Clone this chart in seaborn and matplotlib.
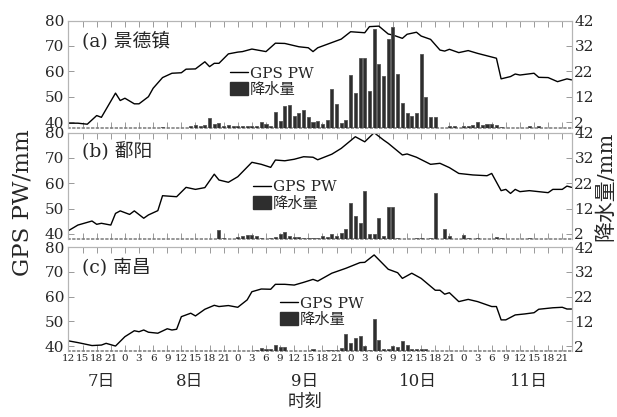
import numpy as np
import matplotlib
matplotlib.use("Agg")
import matplotlib.pyplot as plt
import matplotlib.transforms as mtransforms
from matplotlib.lines import Line2D
from matplotlib.patches import Patch
import seaborn as sns

sns.set_style("white")
plt.rcParams["font.family"] = ["DejaVu Serif", "Noto Sans CJK SC"]
plt.rcParams["axes.unicode_minus"] = False
plt.rcParams["lines.scale_dashes"] = False

# Time axis: hours counted from 7th 00:00, hourly samples 7th 12:00 .. 11th 23:00
hours = np.arange(12, 120)

# ---- (a) 景德镇 ----
pw_hours_a = [12, 14, 16, 18, 19, 22, 23, 24, 26, 27, 29, 30, 32, 34, 36, 37, 39, 41, 42, 43,
              44, 46, 48, 49, 51, 54, 56, 58, 61, 63, 64, 65, 70, 72, 75, 76, 78, 80, 81, 83,
              84, 86, 87, 89, 91, 92, 93, 95, 97, 99, 103, 104, 106, 107, 108, 111, 112, 114,
              116, 118, 119]
pw_a = [39.7, 39.7, 39.3, 42.7, 42.0, 51.5, 48.6, 49.5, 47.3, 47.3, 50.1, 53.4, 57.6, 59.3,
        59.5, 60.9, 61.0, 63.8, 61.9, 63.2, 63.2, 66.9, 67.6, 67.8, 68.8, 67.8, 71.1, 71.0,
        69.7, 69.3, 67.8, 69.3, 72.7, 75.6, 75.2, 77.6, 77.8, 74.7, 74.3, 73.0, 74.6, 75.4,
        73.9, 72.6, 68.4, 68.0, 68.7, 67.4, 68.2, 67.1, 65.2, 57.1, 58.0, 59.0, 58.6, 59.3,
        57.7, 57.6, 56.0, 57.1, 56.7]
rain_hours_a = [32, 38, 39, 40, 41, 42, 43, 44, 45, 46, 47, 48, 49, 50, 51, 52, 53, 54, 55,
                56, 57, 58, 59, 60, 61, 62, 63, 64, 65, 66, 67, 68, 69, 70, 71, 72, 73, 74, 75,
                76, 77, 78, 79, 80, 81, 82, 83, 84, 85, 86, 87, 88, 89, 90, 93, 94, 96, 97, 98,
                99, 100, 101, 102, 103, 104, 110, 112]
rain_a = [0.3, 0.6, 1.0, 0.5, 0.8, 3.8, 1.2, 1.6, 0.6, 0.8, 0.5, 0.5, 0.6, 0.5, 0.4, 0.6, 2.0,
          1.2, 0.5, 6.0, 2.7, 8.4, 8.8, 4.5, 5.8, 6.9, 4.0, 2.0, 2.7, 1.4, 2.9, 15.0, 9.2, 1.6,
          2.9, 20.6, 13.4, 27.4, 27.4, 14.4, 38.5, 24.8, 20.2, 34.6, 39.5, 21.0, 9.7, 5.8, 4.5,
          5.8, 28.7, 11.8, 4.0, 4.2, 0.4, 0.6, 0.5, 0.6, 0.9, 2.3, 0.9, 1.3, 1.3, 1.0, 0.3, 0.6,
          0.7]

# ---- (b) 鄱阳 ----
pw_hours_b = [12, 14, 17, 18, 19, 21, 22, 23, 25, 26, 28, 29, 31, 32, 35, 37, 39, 41, 43, 44,
              46, 48, 51, 53, 55, 56, 58, 60, 62, 64, 65, 68, 70, 73, 75, 77, 79, 80, 83, 84,
              86, 89, 91, 93, 95, 98, 101, 102, 104, 105, 106, 107, 108, 110, 112, 114, 115,
              117, 118, 119]
pw_b = [41.3, 43.5, 45.1, 43.8, 44.2, 43.5, 48.1, 49.1, 47.7, 49.1, 46.2, 47.5, 49.2, 55.1,
        54.7, 58.4, 57.6, 58.3, 63.6, 61.3, 60.4, 62.6, 68.3, 67.5, 66.3, 69.2, 68.9, 69.5,
        70.5, 70.3, 69.3, 71.5, 73.8, 78.4, 76.4, 80.0, 77.1, 75.8, 71.2, 71.6, 70.3, 67.5,
        67.9, 66.2, 63.9, 63.3, 63.0, 63.9, 57.1, 57.6, 56.0, 57.6, 56.7, 57.1, 56.7, 56.3,
        57.6, 57.6, 58.9, 58.4]
rain_hours_b = [44, 45, 48, 49, 50, 51, 52, 53, 55, 56, 57, 58, 59, 60, 61, 62, 63, 64, 65, 66,
                67, 68, 69, 70, 71, 72, 73, 74, 75, 76, 77, 78, 79, 80, 81, 82, 86, 87, 89, 90,
                92, 93, 96, 97, 99, 103, 104, 110]
rain_b = [3.6, 0.5, 0.7, 1.2, 1.4, 1.6, 1.2, 0.5, 0.5, 0.9, 2.0, 2.6, 1.0, 0.7, 0.6, 0.5, 0.5,
          0.5, 0.3, 1.2, 0.7, 2.1, 1.2, 2.3, 4.0, 14.1, 9.2, 6.2, 19.0, 2.0, 1.8, 8.4, 1.2, 12.5,
          12.5, 0.3, 0.5, 0.3, 0.5, 18.3, 3.8, 1.2, 1.6, 0.4, 0.3, 0.9, 0.5, 0.3]

# ---- (c) 南昌 ----
pw_hours_c = [12, 14, 17, 19, 20, 22, 24, 26, 27, 28, 29, 31, 33, 34, 35, 36, 38, 39, 41, 43,
              44, 46, 48, 50, 51, 53, 55, 56, 58, 60, 62, 64, 65, 68, 71, 74, 75, 77, 80, 82,
              83, 85, 87, 90, 91, 92, 93, 95, 97, 99, 102, 103, 104, 105, 107, 109, 111, 112,
              115, 117, 118, 119]
pw_c = [42.1, 41.4, 40.2, 40.4, 41.1, 40.0, 43.8, 46.2, 45.8, 46.5, 45.6, 45.2, 47.0, 46.5,
        46.8, 51.9, 53.3, 52.2, 54.9, 56.5, 56.0, 56.4, 55.7, 58.7, 62.0, 63.1, 63.0, 65.0,
        65.0, 64.7, 65.8, 67.0, 66.3, 69.5, 71.5, 73.8, 73.9, 76.9, 71.1, 69.7, 67.4, 69.5,
        67.4, 62.6, 62.6, 61.0, 61.6, 58.0, 58.9, 58.0, 56.0, 56.0, 50.6, 50.6, 52.6, 53.0,
        53.5, 54.9, 55.5, 55.7, 55.0, 55.0]
rain_hours_c = [52, 53, 54, 55, 56, 57, 58, 64, 67, 68, 69, 70, 71, 72, 73, 74, 75, 76, 77, 78,
                79, 80, 81, 82, 83, 84, 85, 86, 87, 88]
rain_c = [0.4, 1.3, 0.7, 0.8, 2.4, 1.7, 1.7, 0.8, 0.2, 0.4, 0.4, 1.3, 6.7, 3.1, 5.1, 6.2, 2.0,
          0.4, 13.0, 4.5, 0.8, 0.8, 2.0, 1.7, 4.0, 2.4, 0.8, 0.7, 0.7, 0.7]

station_titles = ["(a) 景德镇", "(b) 鄱阳", "(c) 南昌"]
pw_ticks = [40, 50, 60, 70, 80]
rain_ticks = [2, 12, 22, 32, 42]
day_labels = ["7日", "8日", "9日", "10日", "11日"]
day_label_hours = [18.9, 37.7, 62.3, 86.4, 109.8]
legend_labels = ["GPS PW", "降水量"]

panels = [
    (pw_hours_a, pw_a, rain_hours_a, rain_a),
    (pw_hours_b, pw_b, rain_hours_b, rain_b),
    (pw_hours_c, pw_c, rain_hours_c, rain_c),
]

# axes rectangles in figure fraction (left, bottom, width, height)
rects = [
    (0.111, 0.6942, 0.8155, 0.2566),
    (0.111, 0.4269, 0.8155, 0.2549),
    (0.111, 0.1583, 0.8155, 0.2487),
]
legend_anchor = [(0.321, 0.575), (0.367, 0.557), (0.420, 0.529)]
title_y = [0.80, 0.82, 0.80]

bar_color = "#2e2e2e"
spine_color = "#b5b5b5"

fig = plt.figure(figsize=(6.17, 4.17), dpi=100)
axes = []
for i, (ph, pv, rh, rv) in enumerate(panels):
    rain_full = np.zeros(len(hours))
    rain_full[np.searchsorted(hours, rh)] = rv

    ax = fig.add_axes(rects[i])
    ax2 = ax.twinx()
    sns.barplot(x=hours, y=rain_full, native_scale=True, width=0.65, color=bar_color,
                saturation=1, edgecolor="#555555", linewidth=0.6, errorbar=None, ax=ax2)
    sns.lineplot(x=ph, y=pv, color="black", linewidth=1.0, ax=ax)

    ax.set_xlim(12, 119)
    ax.set_ylim(38, 80)
    ax2.set_ylim(0, 42)
    ax.set_yticks(pw_ticks)
    ax2.set_yticks(rain_ticks)
    ax.set_xticks(np.arange(12, 120, 3))
    ax.set_xlabel("")
    ax.set_ylabel("")
    ax2.set_xlabel("")
    ax2.set_ylabel("")

    for a in (ax, ax2):
        for side in ("left", "right", "top"):
            a.spines[side].set_color(spine_color)
            a.spines[side].set_linewidth(0.8)
        a.spines["bottom"].set_visible(False)

    # dashed baseline under the hourly bars
    ax2.axhline(0, color="#7a7a7a", linewidth=1.1, linestyle=(0.4, (2.4, 1.0)),
                clip_on=False, zorder=0.5)

    ax.tick_params(axis="x", which="both", direction="in", top=True, bottom=True,
                   length=4, width=0.7, color="#999999", labelsize=7.5, pad=2)
    ax.tick_params(axis="y", direction="in", left=True, length=4, width=0.7,
                   color="#999999", labelsize=11, pad=3)
    ax2.tick_params(axis="y", direction="in", right=True, length=4, width=0.7,
                    color="#999999", labelsize=11, pad=2)
    ax2.tick_params(axis="x", which="both", bottom=False, top=False, labelbottom=False)

    if i < 2:
        ax.tick_params(axis="x", labelbottom=False)
    else:
        ax.set_xticklabels([str(h % 24) for h in range(12, 120, 3)])

    ax.text(0.027, title_y[i], station_titles[i], transform=ax.transAxes,
            fontsize=13.5, va="center", ha="left")

    handles = [Line2D([0], [0], color="black", lw=1.0),
               Patch(facecolor=bar_color, edgecolor=bar_color)]
    ax2.legend(handles, legend_labels, loc="upper left", bbox_to_anchor=legend_anchor[i],
               frameon=False, fontsize=11, handlelength=1.2, handleheight=0.9,
               handletextpad=0.1, borderpad=0, borderaxespad=0, labelspacing=0.1)
    axes.append((ax, ax2))

# day labels and axis titles
ax_bottom = axes[2][0]
trans = mtransforms.blended_transform_factory(ax_bottom.transData, fig.transFigure)
for h, lab in zip(day_label_hours, day_labels):
    ax_bottom.text(h, 0.084, lab, transform=trans, ha="center", va="center", fontsize=12)

fig.text(0.494, 0.034, "时刻", ha="center", va="center", fontsize=12.5)
fig.text(0.036, 0.515, "GPS PW/mm", rotation=90, ha="center", va="center", fontsize=16.5)
fig.text(0.982, 0.554, "降水量/mm", rotation=90, ha="center", va="center", fontsize=15)

fig.savefig("out.png", dpi=100)
